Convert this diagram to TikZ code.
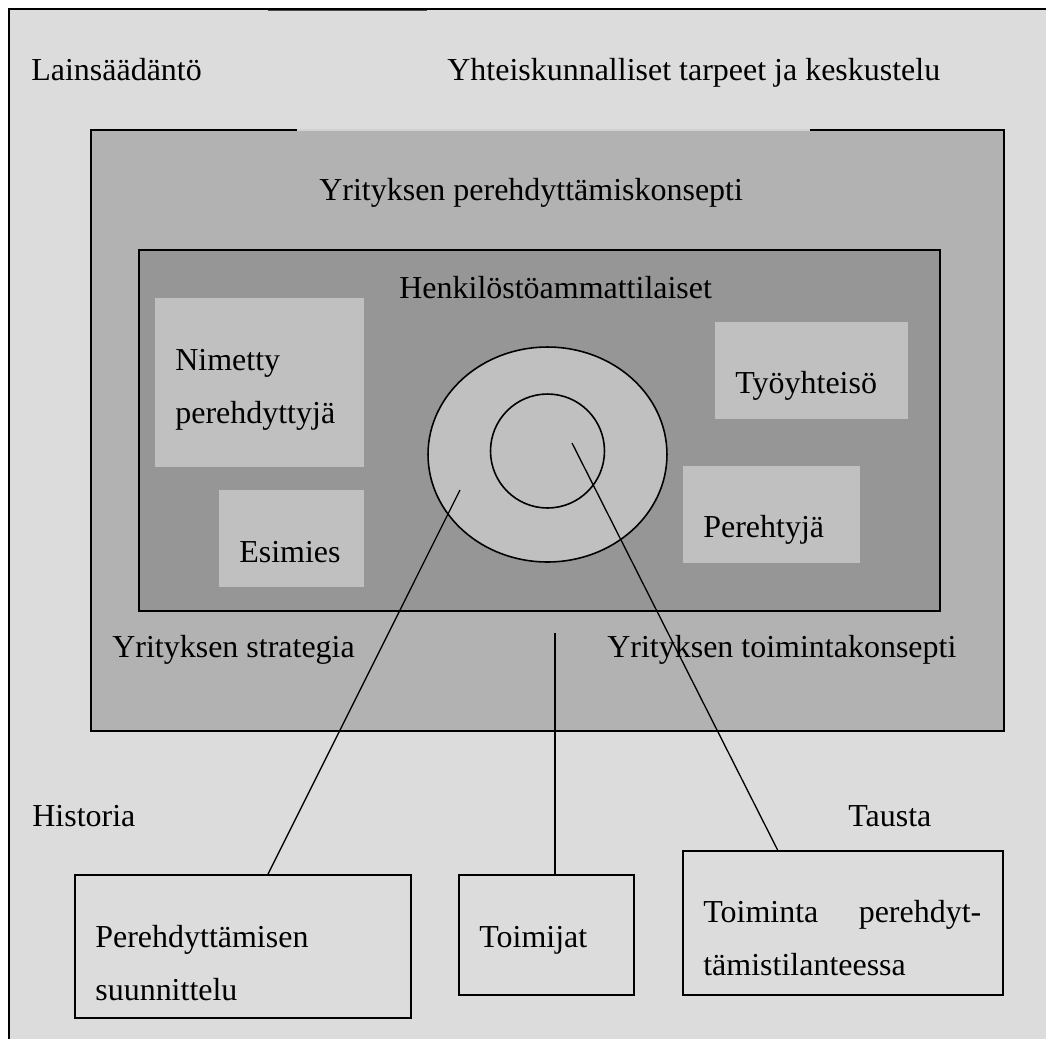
\documentclass[tikz,border=0pt]{standalone}
\usepackage{fontspec}
\setmainfont{Liberation Serif}
\usepackage{tikz}
\usetikzlibrary{calc,fit,shapes.geometric}
\definecolor{outerfill}{HTML}{DCDCDC}
\definecolor{midfill}{HTML}{B2B2B2}
\definecolor{innerfill}{HTML}{969696}
\definecolor{boxfill}{HTML}{C0C0C0}
\tikzset{
	lbl/.style={anchor=base west, inner sep=0pt, font=\fontsize{18.2}{30.7}\selectfont},
	lightbox/.style={fill=boxfill, inner sep=0pt},
	framebox/.style={draw=black, line width=1.1pt, fill=outerfill, inner sep=0pt},
	conn/.style={line width=0.75pt}
}

\begin{document}
\begin{tikzpicture}[x=0.02cm, y=-0.02cm]
		%%%%% START %%%%%
		\useasboundingbox (0, 0) rectangle (1046, 1039);
		\clip (0, 0) rectangle (1046, 1039);
		
		\draw[fill=outerfill, line width=0.9pt] (9, 9) rectangle (1080, 1080);
		\draw[line width=0.9pt, color=black!70] (268, 10.5) -- (427, 10.5);
		
		\fill[midfill] (91, 130) rectangle (1004, 731);
		\draw[line width=1.4pt] (297, 130) -- (91, 130) -- (91, 731) -- (1004, 731) -- (1004, 130) -- (810, 130);
		\draw[line width=1.4pt, color=black!18] (297, 130) -- (810, 130);
		
		\draw[fill=innerfill, line width=1.2pt] (139, 250) rectangle (940, 611);
		
		\node[lightbox, fit={(155, 298) (364, 467)}] (nimetty) {};
		\node[lightbox, fit={(219, 490) (364, 587)}] (esimies) {};
		\node[lightbox, fit={(715, 322) (908, 419)}] (tyoyhteiso) {};
		\node[lightbox, fit={(683, 466) (860, 563)}] (perehtyja) {};
		
		\node[ellipse, draw, fill=boxfill, line width=0.9pt, minimum width=4.78cm, minimum height=4.3cm, inner sep=0pt] (ring) at (547.5, 454.5) {};
		\node[circle, draw, line width=0.9pt, minimum size=2.28cm, inner sep=0pt] (core) at (547.5, 451) {};
		
		\node[lbl] (lainsaadanto) at (31, 80) {Lainsäädäntö};
		\node[lbl] (tarpeet) at (447, 80) {Yhteiskunnalliset tarpeet ja keskustelu};
		\node[lbl] (konsepti) at (319, 200) {Yrityksen perehdyttämiskonsepti};
		\node[lbl] (henkilosto) at (399, 298) {Henkilöstöammattilaiset};
		\node[lbl, text width=4cm] (nimettytext) at (175, 370) {Nimetty\\perehdyttyjä};
		\node[lbl] (esimiestext) at (239, 562) {Esimies};
		\node[lbl] (tyoyhteisotext) at (735, 393) {Työyhteisö};
		\node[lbl] (perehtyjatext) at (703, 537) {Perehtyjä};
		\node[lbl] (strategia) at (112, 657) {Yrityksen strategia};
		\node[lbl] (toimintakonsepti) at (607, 657) {Yrityksen toimintakonsepti};
		\node[lbl] (historia) at (32, 826) {Historia};
		\node[lbl] (tausta) at (848, 826) {Tausta};
		
		\node[framebox, fit={(75, 875) (411, 1018)}] (plan) {};
		\node[framebox, fit={(459, 875) (634, 995)}] (toimijat) {};
		\node[framebox, fit={(683, 851) (1003, 995)}] (toiminta) {};
		
		\node[lbl, text width=5cm] (plantext) at (95, 947) {Perehdyttämisen\\suunnittelu};
		\node[lbl] (toimijattext) at (479, 947) {Toimijat};
		\node[lbl, text width=5.56cm] (toimintatext) at (703, 922) {Toiminta\hfill perehdyt-\\tämistilanteessa};
		
		\coordinate (ringend) at (460, 490);
		\coordinate (coreend) at (572, 443);
		\coordinate (midend) at (555, 633);
		\draw[conn] (ringend) -- ($(plan.north west)!0.574!(plan.north east)$);
		\draw[conn] (midend) -- (midend |- toimijat.north);
		\draw[conn] (coreend) -- ($(toiminta.north west)!0.297!(toiminta.north east)$);
		
		%%%%% END %%%%%
	\end{tikzpicture}
\end{document}
